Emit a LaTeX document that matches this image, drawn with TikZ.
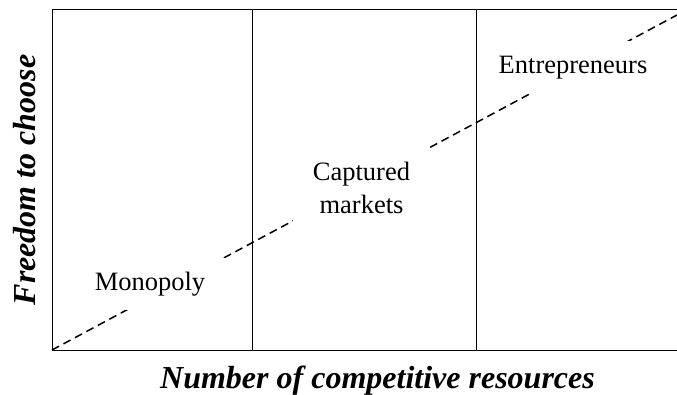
\documentclass[tikz,border=0pt]{standalone}
\usepackage{fontspec}
\setmainfont{Liberation Serif}
\usetikzlibrary{calc}

\begin{document}
\begin{tikzpicture}[
    x=1pt, y=-1pt,
    line width=0.9pt,
    zone/.style={fill=white, inner sep=0pt, align=center,
        font=\fontsize{26.5}{33}\selectfont},
    axislabel/.style={anchor=base, inner sep=0pt,
        font=\fontsize{32}{36}\selectfont\bfseries\itshape}
]
    \useasboundingbox (0,0) rectangle (677,395);

    % Frame
    \coordinate (origin) at (52,350);
    \coordinate (topleft) at (52,9);
    \coordinate (topright) at (677,9);
    \coordinate (bottomright) at (677,350);
    \draw (topright) -- (topleft) -- (origin) -- (bottomright);

    % Dividers
    \draw (252,9) -- (252,350);
    \draw (476,9) -- (476,350);

    % Trend line
    \coordinate (trendend) at (677,15);
    \draw[line width=1.5pt, dash pattern=on 8pt off 5pt] (origin) -- (trendend);

    % Zones
    \node[zone, minimum width=150pt, minimum height=51pt] (monopoly) at (150,284) {Monopoly};
    \node[zone, minimum width=137pt, minimum height=86pt] (captured) at (361.5,187.5) {Captured\\markets};
    \node[zone, minimum width=170pt, minimum height=52pt] (entrepreneurs) at (573,67.5) {Entrepreneurs};

    % Axes
    \node[axislabel] (xlabel) at (377.5,388) {Number of competitive resources};
    \node[axislabel, rotate=90] (ylabel) at (35,180) {Freedom to choose};

\end{tikzpicture}
\end{document}
